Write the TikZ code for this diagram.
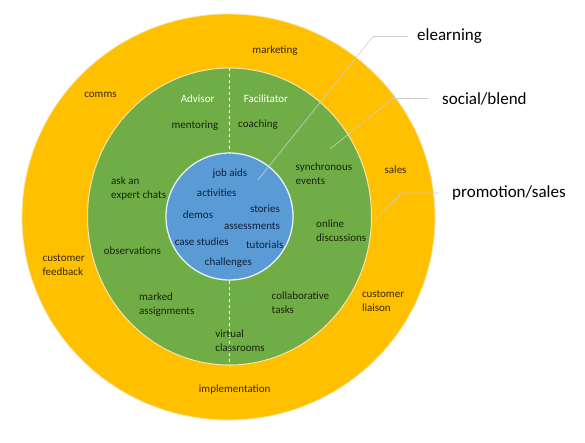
\documentclass[tikz,border=0pt]{standalone}
\usepackage{fontspec}
\setmainfont{Carlito}
\usepackage{tikz}
\usetikzlibrary{shapes.geometric}

\definecolor{ringgold}{HTML}{FFC000}
\definecolor{ringedge}{HTML}{F8E3A8}
\definecolor{midgreen}{HTML}{70AD47}
\definecolor{coreblue}{HTML}{5B9BD5}
\definecolor{ringink}{HTML}{3A2804}
\definecolor{greenink}{HTML}{16260B}
\definecolor{blueink}{HTML}{0E1E3A}

\begin{document}
\begin{tikzpicture}[
    x=1pt, y=-1pt,
    band/.style={ellipse, inner sep=0pt},
    ringtext/.style={inner sep=0pt, text=ringink, align=left, font=\fontsize{11}{14}\selectfont},
    greentext/.style={inner sep=0pt, text=greenink, align=left, font=\fontsize{11}{14}\selectfont},
    bluetext/.style={inner sep=0pt, text=blueink, font=\fontsize{11}{14}\selectfont},
    roletext/.style={inner sep=0pt, text=white, font=\fontsize{11}{14}\selectfont},
    biglabel/.style={inner sep=0pt, anchor=west, text=black, font=\fontsize{17}{20}\selectfont},
    divider/.style={draw=white, dashed, line width=0.8pt},
    callout/.style={draw=gray!40, line width=0.6pt}
]
\useasboundingbox (0,0) rectangle (585,442);

% rings
\node[band, fill=ringgold, draw=ringedge, line width=0.8pt,
      minimum width=413pt, minimum height=406pt] (outer) at (228.5,217) {};
\node[band, fill=midgreen, draw=ringedge, line width=1pt,
      minimum width=284pt, minimum height=297pt] (green) at (229.5,216.5) {};
\node[band, fill=coreblue, draw=white!85!coreblue, line width=1.3pt,
      minimum width=127pt, minimum height=127pt] (core) at (229.5,216.5) {};

% advisor / facilitator split
\draw[divider] (green.north) -- (core.north);
\draw[divider] (core.south) -- (green.south);

% outer ring
\node[ringtext] (marketing) at (275,51) {marketing};
\node[ringtext] (comms) at (100.5,95) {comms};
\node[ringtext] (sales) at (395.6,170) {sales};
\node[ringtext, anchor=west] (feedback) at (42.4,265.5) {customer\\feedback};
\node[ringtext, anchor=west] (liaison) at (361.8,301.5) {customer\\liaison};
\node[ringtext] (implementation) at (234.7,390) {implementation};

% green ring
\node[roletext] (advisor) at (197.6,99) {Advisor};
\node[roletext] (facilitator) at (266,99) {Facilitator};
\node[greentext] (mentoring) at (195,126) {mentoring};
\node[greentext] (coaching) at (258,125) {coaching};
\node[greentext, anchor=west] (synchronous) at (295.5,173.7) {synchronous\\events};
\node[greentext, anchor=west] (askexpert) at (111,189) {ask an\\expert chats};
\node[greentext, anchor=west] (online) at (316,230.3) {online\\discussions};
\node[greentext] (observations) at (132.4,250.3) {observations};
\node[greentext, anchor=west] (marked) at (139,304.3) {marked\\assignments};
\node[greentext, anchor=west] (collab) at (271.5,302.3) {collaborative\\tasks};
\node[greentext, anchor=west] (virtual) at (215.2,340.8) {virtual\\classrooms};

% blue core
\node[bluetext] (jobaids) at (230,174) {job aids};
\node[bluetext] (activities) at (216.7,192.7) {activities};
\node[bluetext] (stories) at (265,208.7) {stories};
\node[bluetext] (demos) at (198,214.3) {demos};
\node[bluetext] (assessments) at (252,225.7) {assessments};
\node[bluetext] (casestudies) at (201.7,241.3) {case studies};
\node[bluetext] (tutorials) at (264.7,244.7) {tutorials};
\node[bluetext] (challenges) at (228.4,262.7) {challenges};

% callouts
\node[biglabel] (elearning) at (417,36.5) {elearning};
\node[biglabel] (social) at (442,98.5) {social/blend};
\node[biglabel] (promotion) at (452,193) {promotion/sales};

\coordinate (eStart) at (258,180);
\coordinate (eElbow) at ([xshift=-44pt]elearning.west);
\coordinate (sStart) at (330,149);
\coordinate (sElbow) at ([xshift=-49pt]social.west);
\coordinate (pStart) at (374,220);
\coordinate (pElbow) at ([xshift=-50pt]promotion.west);

\draw[callout, shorten >=9pt] (eStart) -- (eElbow) -- (elearning.west);
\draw[callout, shorten >=14pt] (sStart) -- (sElbow) -- (social.west);
\draw[callout, shorten >=13pt] (pStart) -- (pElbow) -- (promotion.west);

\end{tikzpicture}
\end{document}
